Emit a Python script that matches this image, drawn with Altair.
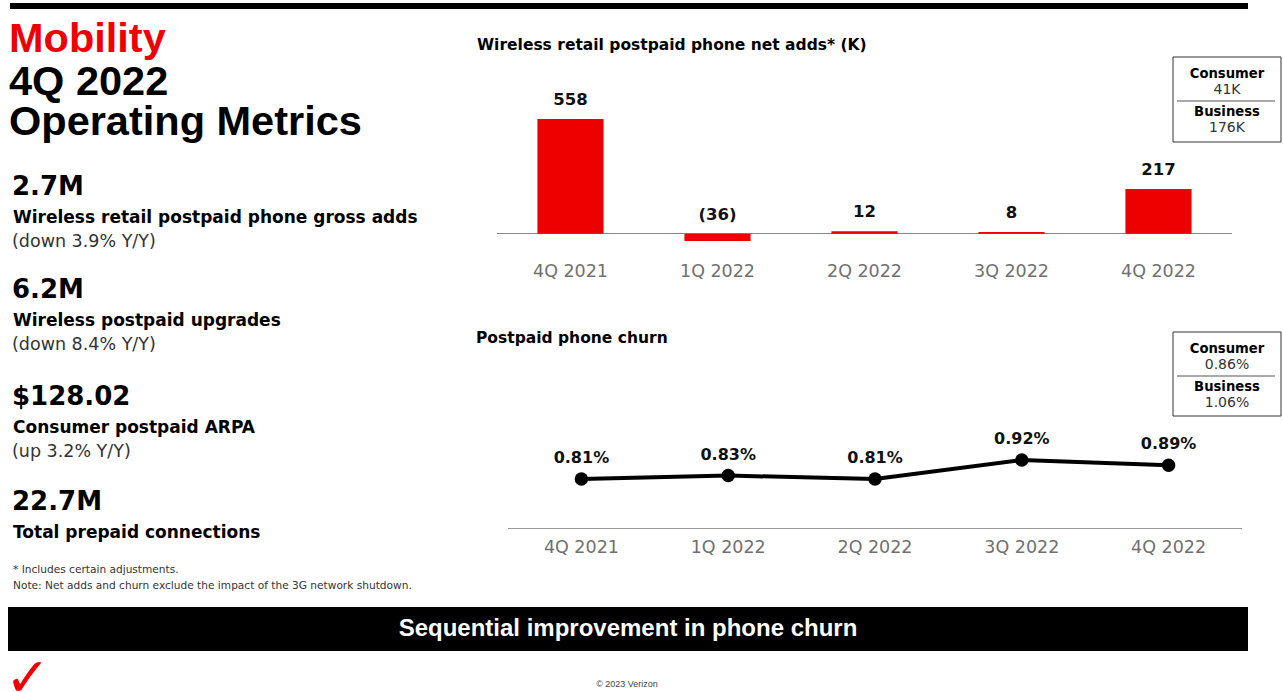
import altair as alt
import pandas as pd

# ---------------- data ----------------
quarters = ["4Q 2021", "1Q 2022", "2Q 2022", "3Q 2022", "4Q 2022"]
net_adds = [558, -36, 12, 8, 217]
churn = [0.81, 0.83, 0.81, 0.92, 0.89]

title_lines = ["Mobility", "4Q 2022", "Operating Metrics"]
metric_values = ["2.7M", "6.2M", "$128.02", "22.7M"]
metric_labels = ["Wireless retail postpaid phone gross adds", "Wireless postpaid upgrades",
                 "Consumer postpaid ARPA", "Total prepaid connections"]
metric_notes = ["(down 3.9% Y/Y)", "(down 8.4% Y/Y)", "(up 3.2% Y/Y)", ""]
footnotes = ["* Includes certain adjustments.",
             "Note:  Net adds and churn exclude the impact of the 3G network shutdown."]
bar_title = "Wireless retail postpaid phone net adds* (K)"
line_title = "Postpaid phone churn"
legend1 = ["Consumer", "41K", "Business", "176K"]
legend2 = ["Consumer", "0.86%", "Business", "1.06%"]
banner = "Sequential improvement in phone churn"
copyright_txt = "\u00a9 2023 Verizon"

RED = "#EE0000"
HEAD = "Liberation Sans"
BODY = "DejaVu Sans"

one = pd.DataFrame({"a": [0]})
bars_df = pd.DataFrame({"quarter": quarters, "adds": net_adds})
churn_df = pd.DataFrame({"quarter": quarters, "churn": churn})


def txt(s, x, y, size, weight="normal", color="#000", font=BODY, align="left", baseline="alphabetic"):
    return alt.Chart(one).mark_text(text=s, fontSize=size, fontWeight=weight, color=color,
                                    font=font, align=align, baseline=baseline).encode(
        x=alt.value(x), y=alt.value(y))


def rect(x, x2, y, y2, **kw):
    return alt.Chart(one).mark_rect(**kw).encode(
        x=alt.value(x), x2=alt.value(x2), y=alt.value(y), y2=alt.value(y2))


def rule(x, x2, y, color, width=1):
    return alt.Chart(one).mark_rule(color=color, strokeWidth=width).encode(
        x=alt.value(x), x2=alt.value(x2), y=alt.value(y))


layers = []
# decorations
layers.append(rect(10, 1248, 3, 9, color="black"))
layers.append(rect(8, 1248, 607, 651, color="black"))
layers.append(txt(banner, 628, 629, 24, "bold", "white", HEAD, "center", "middle"))
layers.append(txt("\u2713", 5, 696, 54, "bold", RED, BODY, "left", "alphabetic"))
layers.append(txt(copyright_txt, 627, 684, 9, "normal", "#444", HEAD, "center", "middle"))

# left title
for s, yb, c in zip(title_lines, [52, 95, 135], [RED, "black", "black"]):
    layers.append(txt(s, 9, yb, 41.5, "bold", c, HEAD))

val_y = [195, 298, 405, 510]
for i in range(4):
    yb = val_y[i]
    layers.append(txt(metric_values[i], 12, yb, 26, "bold", "black", BODY))
    layers.append(txt(metric_labels[i], 13, yb + 28, 17, "bold", "black", BODY))
    if metric_notes[i]:
        layers.append(txt(metric_notes[i], 12, yb + 52, 17.5, "normal", "#333", BODY))
layers.append(txt(footnotes[0], 13, 573, 10.6, "normal", "#333", BODY))
layers.append(txt(footnotes[1], 13, 589, 10.6, "normal", "#333", BODY))

# titles of the charts
layers.append(txt(bar_title, 477, 45, 15.5, "bold", "black", BODY, "left", "middle"))
layers.append(txt(line_title, 476, 338, 15.5, "bold", "black", BODY, "left", "middle"))

# legend boxes
for (y0, y1, ydiv, leg) in [(57, 142, 101, legend1), (332, 416, 376, legend2)]:
    layers.append(rect(1173, 1281, y0, y1, fill="white", stroke="#333", strokeWidth=1))
    layers.append(rule(1177, 1275, ydiv, "#555", 1))
    ys = [y0 + 21, y0 + 37, y0 + 59, y0 + 75]
    for j, s in enumerate(leg):
        bold = j % 2 == 0
        layers.append(txt(s, 1227, ys[j], 13.2 if bold else 14, "bold" if bold else "normal",
                          "black" if bold else "#333", BODY, "center"))

# ---------------- bar chart ----------------
bx = alt.X("quarter:N", sort=quarters, axis=None,
           scale=alt.Scale(range=[497, 1232], paddingInner=0.55, paddingOuter=0.275))
by = alt.Y("adds:Q", axis=None, scale=alt.Scale(domain=[0, 558], range=[233.7, 119], zero=True))

layers.append(rule(497, 1232, 233.5, "#888", 1))
layers.append(alt.Chart(bars_df).mark_bar(color=RED).encode(x=bx, y=by))
layers.append(alt.Chart(bars_df).transform_calculate(
    lab="datum.adds < 0 ? '(' + abs(datum.adds) + ')' : '' + datum.adds",
    ly="max(datum.adds, 0)").mark_text(
    fontSize=16.5, fontWeight="bold", font=BODY, color="#111", baseline="middle", dy=-19).encode(
    x=bx, y=alt.Y("ly:Q", axis=None, scale=alt.Scale(domain=[0, 558], range=[233.7, 119])),
    text="lab:N"))
layers.append(alt.Chart(bars_df).mark_text(
    fontSize=17.5, font=BODY, color="#707070", baseline="middle").encode(
    x=bx, y=alt.value(272), text="quarter:N"))

# ---------------- line chart ----------------
lx = alt.X("quarter:N", sort=quarters, axis=None,
           scale=alt.Scale(type="point", range=[508, 1242], padding=0.5))
ly = alt.Y("churn:Q", axis=None, scale=alt.Scale(domain=[0, 1], range=[618.3, 446.3], zero=False))

layers.append(rule(508, 1242, 528.5, "#999", 1))
layers.append(alt.Chart(churn_df).mark_line(color="black", strokeWidth=4).encode(x=lx, y=ly))
layers.append(alt.Chart(churn_df).mark_circle(color="black", size=180, opacity=1).encode(x=lx, y=ly))
layers.append(alt.Chart(churn_df).transform_calculate(
    lab="format(datum.churn, '.2f') + '%'").mark_text(
    fontSize=16, fontWeight="bold", font=BODY, color="#111", baseline="middle", dy=-21).encode(
    x=lx, y=ly, text="lab:N"))
layers.append(alt.Chart(churn_df).mark_text(
    fontSize=17.5, font=BODY, color="#707070", baseline="middle").encode(
    x=lx, y=alt.value(548), text="quarter:N"))

chart = alt.layer(*layers).resolve_scale(x="independent", y="independent").properties(
    width=1283, height=692, autosize=alt.AutoSizeParams(type="none"), padding=0,
    background="white"
).configure_view(stroke=None)

chart.save("out.html", embed_options={"renderer": "svg", "actions": False})
